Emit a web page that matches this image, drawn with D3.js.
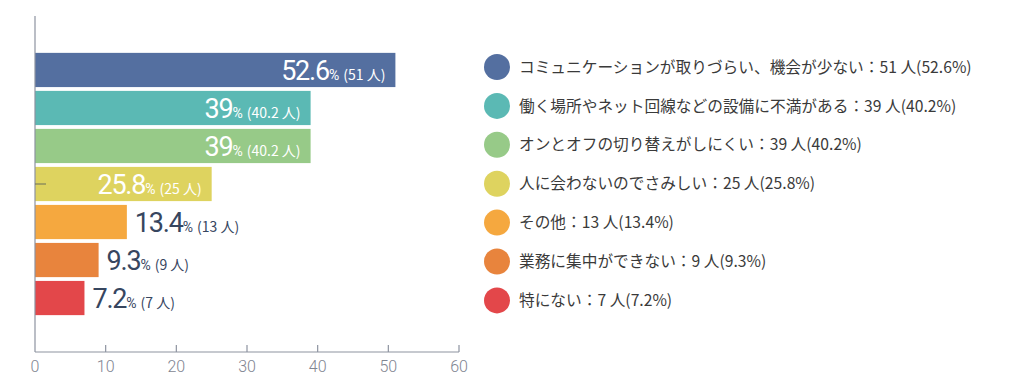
<!DOCTYPE html>
<html>
<head>
<meta charset="utf-8">
<script src="https://cdn.jsdelivr.net/npm/d3@7"></script>
<style>
  html, body { margin: 0; padding: 0; background: #fff; }
  svg { display: block; }
</style>
</head>
<body>
<svg id="chart" width="1020" height="391"></svg>
<script>
// data
const categories = [
  "コミュニケーションが取りづらい、機会が少ない",
  "働く場所やネット回線などの設備に不満がある",
  "オンとオフの切り替えがしにくい",
  "人に会わないのでさみしい",
  "その他",
  "業務に集中ができない",
  "特にない"
];
const counts = [51, 39, 39, 25, 13, 9, 7];
// bar labels as printed on the bars (they are swapped on some rows in the original)
const barPct = ["52.6", "39", "39", "25.8", "13.4", "9.3", "7.2"];
const barPeople = ["51", "40.2", "40.2", "25", "13", "9", "7"];
const legendPct = ["52.6", "40.2", "40.2", "25.8", "13.4", "9.3", "7.2"];
const colors = ["#546fa0", "#5bb9b4", "#97ca88", "#ded35f", "#f5a83f", "#e8843d", "#e3474a"];
const xTicks = [0, 10, 20, 30, 40, 50, 60];

const svg = d3.select("#chart");
const axisColor = "#8d93a0";
const darkText = "#37465f";

const x = d3.scaleLinear().domain([0, 60]).range([35, 459]);
const y = d3.scaleBand()
  .domain(categories)
  .range([16, 352])
  .paddingInner(0.1)
  .paddingOuter(0.97);

// bars
svg.append("g")
  .selectAll("rect")
  .data(categories)
  .join("rect")
  .attr("x", x(0))
  .attr("y", d => y(d))
  .attr("width", (d, i) => x(counts[i]) - x(0))
  .attr("height", y.bandwidth())
  .attr("fill", (d, i) => colors[i]);

// bar labels
const labels = svg.append("g")
  .selectAll("text")
  .data(categories)
  .join("text")
  .attr("y", d => y(d) + y.bandwidth() / 2 + 10);

labels.append("tspan")
  .attr("font-family", "Roboto, sans-serif")
  .attr("font-size", 27)
  .attr("letter-spacing", -1.2)
  .text((d, i) => barPct[i]);
labels.append("tspan")
  .attr("font-family", "Roboto, sans-serif")
  .attr("font-size", 14)
  .text("%");
labels.append("tspan")
  .attr("font-family", "'Noto Sans CJK JP', sans-serif")
  .attr("font-size", 14)
  .attr("dx", 4)
  .text((d, i) => "(" + barPeople[i] + " 人)");

labels.each(function(d, i) {
  const t = d3.select(this);
  const w = this.getComputedTextLength();
  const barW = x(counts[i]) - x(0);
  if (barW > w + 24) {
    t.attr("x", x(counts[i]) - 10).attr("text-anchor", "end").attr("fill", "#fff");
  } else {
    t.attr("x", x(counts[i]) + 8).attr("text-anchor", "start").attr("fill", darkText);
  }
});

// axes
const axisG = svg.append("g");
axisG.append("line")
  .attr("x1", x(0)).attr("x2", x(0))
  .attr("y1", y.range()[0]).attr("y2", y.range()[1])
  .attr("stroke", axisColor).attr("stroke-width", 1.2);
axisG.append("line")
  .attr("x1", x(0)).attr("x2", x(60))
  .attr("y1", y.range()[1]).attr("y2", y.range()[1])
  .attr("stroke", axisColor).attr("stroke-width", 1.2);
axisG.selectAll(".xtick")
  .data(xTicks.slice(1))
  .join("line")
  .attr("x1", d => x(d)).attr("x2", d => x(d))
  .attr("y1", y.range()[1]).attr("y2", y.range()[1] - 7)
  .attr("stroke", axisColor).attr("stroke-width", 1.2);
axisG.selectAll(".xlabel")
  .data(xTicks)
  .join("text")
  .attr("x", d => x(d))
  .attr("y", y.range()[1] + 20)
  .attr("text-anchor", "middle")
  .attr("font-family", "Roboto, sans-serif")
  .attr("font-weight", 300)
  .attr("font-size", 16)
  .attr("fill", "#7f8591")
  .text(d => d);

// single tick on the y axis, at the middle row
const mid = categories[3];
axisG.append("line")
  .attr("x1", x(0)).attr("x2", x(0) + 11)
  .attr("y1", y(mid) + y.bandwidth() / 2).attr("y2", y(mid) + y.bandwidth() / 2)
  .attr("stroke", "#6b6f5a").attr("stroke-width", 1);

// legend
const legend = svg.append("g")
  .selectAll("g")
  .data(categories)
  .join("g")
  .attr("transform", (d, i) => `translate(497, ${67 + i * 38.9})`);
legend.append("circle")
  .attr("r", 13)
  .attr("fill", (d, i) => colors[i]);
legend.append("text")
  .attr("x", 22)
  .attr("dy", "0.36em")
  .attr("font-family", "'Noto Sans CJK JP', sans-serif")
  .attr("font-size", 15.7)
  .attr("fill", "#3a3a3a")
  .text((d, i) => `${d}：${counts[i]} 人(${legendPct[i]}%)`);
</script>
</body>
</html>
